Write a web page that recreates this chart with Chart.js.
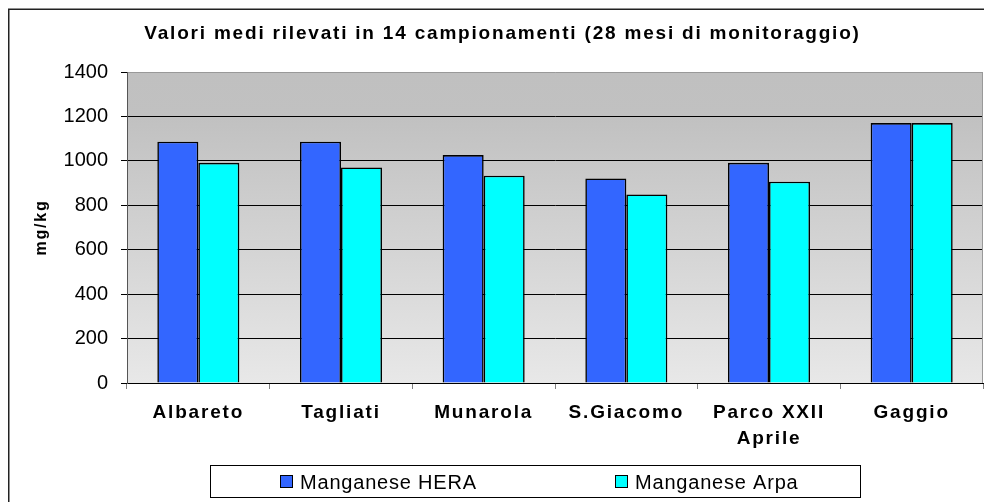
<!DOCTYPE html>
<html>
<head>
<meta charset="utf-8">
<title>Manganese</title>
<script src="https://cdn.jsdelivr.net/npm/chart.js@4.4.0/dist/chart.umd.min.js"></script>
<style>
  html, body { margin: 0; padding: 0; background: #fff; overflow: hidden; }
  #wrap { width: 984px; height: 502px; }
</style>
</head>
<body>
<div id="wrap"><canvas id="manganeseChart" width="984" height="502"></canvas></div>
<script>
const sites = ['Albareto', 'Tagliati', 'Munarola', 'S.Giacomo', ['Parco XXII', 'Aprile'], 'Gaggio'];
const manganeseHera = [1086, 1086, 1026, 921, 991, 1170];
const manganeseArpa = [991, 970, 933, 849, 906, 1170];
const yMin = 0;
const yMax = 1400;
const yStep = 200;

const FONT = '"Liberation Sans", Arial, sans-serif';

// bold text (title, site names, axis title) is drawn a little spaced out
const spacedBold = {
  id: 'spacedBold',
  beforeInit(chart) {
    const ctx = chart.ctx;
    const fillText = ctx.fillText;
    ctx.fillText = function (...args) {
      const old = this.letterSpacing;
      if (/bold/.test(this.font)) this.letterSpacing = '1.8px';
      fillText.apply(this, args);
      this.letterSpacing = old;
    };
  }
};

// outer frame + grey gradient behind the bars
const plotBackground = {
  id: 'plotBackground',
  beforeDraw(chart) {
    const { ctx, chartArea: a } = chart;
    ctx.save();
    ctx.strokeStyle = '#222';
    ctx.lineWidth = 1.5;
    ctx.strokeRect(8.75, 9.25, 1100, 600);

    const g = ctx.createLinearGradient(0, a.top, 0, a.bottom);
    g.addColorStop(0, '#c0c0c0');
    g.addColorStop(0.15, '#c1c1c1');
    g.addColorStop(1, '#e8e8e8');
    ctx.fillStyle = g;
    ctx.fillRect(a.left, a.top, a.right - a.left, a.bottom - a.top);
    ctx.restore();
  },
  beforeDatasetsDraw(chart) {
    const { ctx, chartArea: a } = chart;
    ctx.save();
    ctx.strokeStyle = '#999';
    ctx.lineWidth = 1;
    ctx.beginPath();
    ctx.moveTo(a.right - 0.5, a.top);
    ctx.lineTo(a.right - 0.5, a.bottom);
    ctx.stroke();
    ctx.restore();
  }
};

// legend in a framed box under the axis
const boxedLegend = {
  id: 'boxedLegend',
  afterDraw(chart, args, opts) {
    const ctx = chart.ctx;
    const b = opts.box;
    ctx.save();
    ctx.fillStyle = '#fff';
    ctx.fillRect(b.x, b.y, b.w, b.h);
    ctx.strokeStyle = '#000';
    ctx.lineWidth = 1;
    ctx.strokeRect(b.x + 0.5, b.y + 0.5, b.w, b.h);

    ctx.font = '20px ' + FONT;
    ctx.letterSpacing = '0.8px';
    ctx.textBaseline = 'middle';
    const cy = b.y + b.h / 2 + 1;
    chart.data.datasets.forEach((ds, i) => {
      const x = opts.itemX[i];
      ctx.fillStyle = ds.backgroundColor;
      ctx.fillRect(x, cy - 7, 13, 13);
      ctx.strokeRect(x + 0.5, cy - 6.5, 12, 12);
      ctx.fillStyle = '#000';
      ctx.fillText(ds.label, x + 20, cy + 1);
    });
    ctx.restore();
  }
};

Chart.defaults.color = '#000';

new Chart(document.getElementById('manganeseChart'), {
  type: 'bar',
  data: {
    labels: sites,
    datasets: [
      {
        label: 'Manganese HERA',
        data: manganeseHera,
        backgroundColor: '#3366ff',
        borderColor: '#000',
        borderWidth: 1.6
      },
      {
        label: 'Manganese Arpa',
        data: manganeseArpa,
        backgroundColor: '#00ffff',
        borderColor: '#000',
        borderWidth: 1.6
      }
    ]
  },
  options: {
    responsive: false,
    animation: false,
    events: [],
    categoryPercentage: 0.575,
    barPercentage: 1,
    layout: { padding: { left: 22, right: 1, top: 0, bottom: 0 } },
    plugins: {
      legend: { display: false },
      tooltip: { enabled: false },
      title: {
        display: true,
        text: 'Valori medi rilevati in 14 campionamenti (28 mesi di monitoraggio)',
        font: { family: FONT, size: 19, weight: 'bold', lineHeight: 1.2 },
        padding: { top: 22.6, bottom: 26.6 },
        color: '#000'
      },
      boxedLegend: {
        box: { x: 210, y: 465, w: 650, h: 32 },
        itemX: [280, 615]
      }
    },
    scales: {
      x: {
        grid: { offset: true, drawOnChartArea: false, tickLength: 6, color: '#808080' },
        border: { color: '#000', width: 1 },
        ticks: {
          font: { family: FONT, size: 19, weight: 'bold', lineHeight: 1.4 },
          padding: 10,
          color: '#000',
          maxRotation: 0,
          autoSkip: false
        },
        afterFit(scale) { scale.height = 119; }
      },
      y: {
        min: yMin,
        max: yMax,
        ticks: {
          stepSize: yStep,
          font: { family: FONT, size: 20 },
          padding: 13,
          color: '#000',
          callback: v => String(v)
        },
        grid: {
          color: c => (c.tick && c.tick.value === yMax ? '#999' : '#000'),
          tickColor: '#000',
          tickLength: 6
        },
        border: { color: '#555' },
        title: {
          display: true,
          text: 'mg/kg',
          font: { family: FONT, size: 16, weight: 'bold' },
          padding: { top: 10 },
          color: '#000'
        },
        afterFit(scale) { scale.width = 105; }
      }
    }
  },
  plugins: [spacedBold, plotBackground, boxedLegend]
});
</script>
</body>
</html>
